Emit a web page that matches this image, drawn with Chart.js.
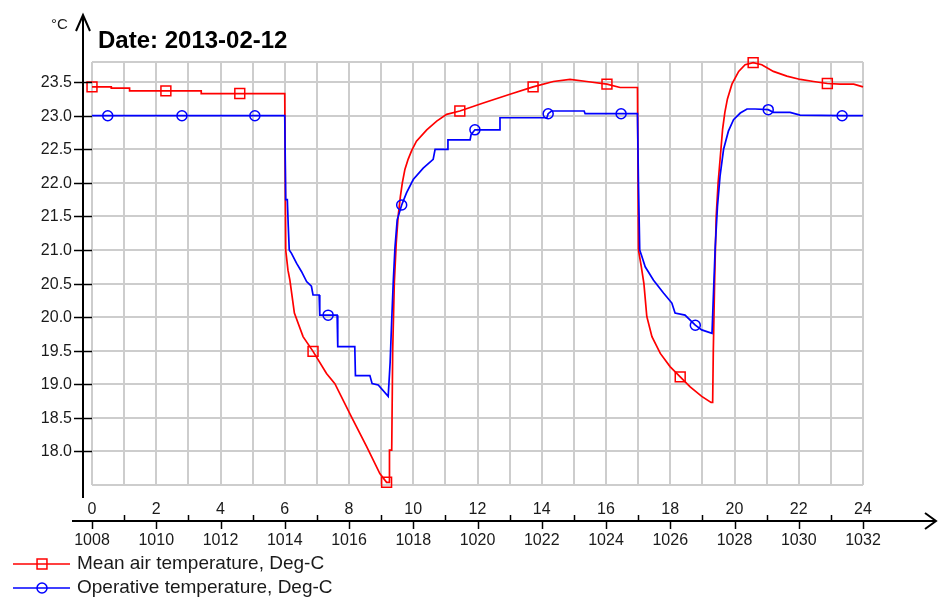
<!DOCTYPE html>
<html>
<head>
<meta charset="utf-8">
<script src="https://cdn.jsdelivr.net/npm/chart.js@4.4.1/dist/chart.umd.min.js"></script>
<style>
  html, body { margin: 0; padding: 0; background: #fff; }
  #wrap { position: relative; width: 939px; height: 599px; }
</style>
</head>
<body>
<div id="wrap"><canvas id="chart"></canvas></div>
<script>
// Room temperatures for one simulated day (hour of day / hour of year)
const titleText = 'Date: 2013-02-12';
const unitLabel = '°C';
const seriesNames = ['Mean air temperature, Deg-C', 'Operative temperature, Deg-C'];

const airHours = [0, 0.6, 0.6, 1.17, 1.17, 2.30, 3.4, 3.4, 4.60, 6.0,
  6.03, 6.10, 6.16, 6.30, 6.57, 6.88, 7.30, 7.56, 8.08, 8.55,
  8.96, 9.17, 9.26, 9.26, 9.33, 9.36, 9.41, 9.47, 9.53, 9.60,
  9.66, 9.74, 9.84, 9.95, 10.1, 10.42, 10.73, 11.04, 11.45, 12.18,
  13.01, 13.73, 14.36, 14.88, 15.40, 16.03, 16.44, 16.98, 17.01, 17.10,
  17.18, 17.27, 17.43, 17.69, 18.0, 18.31, 18.62, 18.98, 19.27, 19.32,
  19.34, 19.38, 19.43, 19.49, 19.56, 19.63, 19.70, 19.78, 19.92, 20.13,
  20.33, 20.58, 20.85, 21.21, 21.63, 22.05, 22.46, 22.89, 23.29, 23.71, 24];
const airTemp = [23.43, 23.43, 23.41, 23.41, 23.37, 23.37, 23.37, 23.33, 23.33, 23.33,
  21.0, 20.7, 20.55, 20.06, 19.71, 19.49, 19.16, 19.01, 18.51, 18.07,
  17.67, 17.54, 17.54, 18.02, 18.02, 19.5, 20.5, 21.1, 21.5, 21.8,
  22.0, 22.2, 22.35, 22.48, 22.62, 22.79, 22.92, 23.02, 23.07, 23.19,
  23.32, 23.43, 23.51, 23.54, 23.51, 23.47, 23.42, 23.42, 21.0, 20.75,
  20.5, 20.01, 19.71, 19.46, 19.26, 19.11, 18.96, 18.82, 18.73, 18.73,
  19.49, 20.5, 21.5, 22.0, 22.4, 22.8, 23.05, 23.25, 23.47, 23.66,
  23.76, 23.79, 23.76, 23.66, 23.59, 23.54, 23.51, 23.48, 23.47, 23.47, 23.43];
const airMarkerHours = [0, 2.30, 4.60, 6.88, 9.17, 11.45, 13.73, 16.03, 18.31, 20.58, 22.89];

const opHours = [0, 0.49, 2.80, 5.07, 6.0, 6.03, 6.08, 6.11, 6.14, 6.21,
  6.37, 6.52, 6.68, 6.83, 6.88, 7.07, 7.09, 7.35, 7.63, 7.65,
  8.18, 8.20, 8.65, 8.72, 8.91, 9.22, 9.28, 9.33, 9.38, 9.43,
  9.50, 9.64, 9.79, 10.0, 10.31, 10.62, 10.68, 11.06, 11.08, 11.77,
  11.80, 11.92, 12.68, 12.70, 14.16, 14.2, 14.3, 15.32, 15.35, 16.47,
  16.98, 17.01, 17.05, 17.12, 17.22, 17.48, 17.79, 18.05, 18.15, 18.46,
  18.78, 18.98, 19.30, 19.35, 19.40, 19.47, 19.55, 19.66, 19.81, 19.97,
  20.18, 20.39, 20.64, 21.05, 21.21, 21.73, 22.04, 23.35, 24];
const opTemp = [23.0, 23.0, 23.0, 23.0, 23.0, 21.75, 21.75, 21.35, 21.0, 20.95,
  20.80, 20.68, 20.53, 20.46, 20.33, 20.33, 20.03, 20.03, 20.03, 19.56,
  19.56, 19.13, 19.13, 19.01, 18.99, 18.82, 19.32, 19.96, 20.55, 21.03,
  21.45, 21.67, 21.85, 22.05, 22.22, 22.35, 22.5, 22.5, 22.64, 22.64,
  22.72, 22.79, 22.79, 22.97, 22.97, 23.03, 23.07, 23.07, 23.03, 23.03,
  23.03, 22.0, 21.0, 20.9, 20.75, 20.55, 20.36, 20.21, 20.06, 20.03,
  19.88, 19.81, 19.76, 20.41, 21.05, 21.65, 22.1, 22.5, 22.77, 22.94,
  23.04, 23.1, 23.1, 23.09, 23.05, 23.05, 23.01, 23.0, 23.0];
const opMarkerHours = [0.49, 2.80, 5.07, 7.35, 9.64, 11.92, 14.2, 16.47, 18.78, 21.05, 23.35];

const hourTicks = [0, 2, 4, 6, 8, 10, 12, 14, 16, 18, 20, 22, 24];
const hourOfYearTicks = [1008, 1010, 1012, 1014, 1016, 1018, 1020, 1022, 1024, 1026, 1028, 1030, 1032];
const tempTicks = [18.0, 18.5, 19.0, 19.5, 20.0, 20.5, 21.0, 21.5, 22.0, 22.5, 23.0, 23.5];
const tempRange = [17.5, 23.8];
const hourRange = [0, 24];

const seriesColors = ['#ff0000', '#0000ff'];
const markerStyles = [
  { pointStyle: 'rect', radius: 7, borderWidth: 1.5, rotation: 0 },
  { pointStyle: 'circle', radius: 5, borderWidth: 1.5, rotation: 0 }
];
const FONT = '"Liberation Sans", Arial, sans-serif';
const GRID = '#cdcdcd';

const toPoints = (xs, ys) => xs.map((x, i) => ({ x: x, y: ys[i] }));
const markerRadius = (list, r) => (c) => (c.raw && list.includes(c.raw.x)) ? r : 0;

// Axis lines with arrow heads, tick marks, tick labels, title and legend
const axesPlugin = {
  id: 'thermoAxes',
  afterDraw(chart) {
    const ctx = chart.ctx;
    const xs = chart.scales.x, ys = chart.scales.y;
    const area = chart.chartArea;
    const axisX = Math.round(area.left) - 9;
    const axisY = Math.round(area.bottom) + 36;

    ctx.save();
    ctx.strokeStyle = '#000';
    ctx.fillStyle = '#1a1a1a';
    ctx.lineWidth = 2;
    ctx.lineCap = 'butt';

    // vertical axis
    ctx.beginPath();
    ctx.moveTo(axisX, area.bottom + 13);
    ctx.lineTo(axisX, 16);
    ctx.stroke();
    ctx.beginPath();
    ctx.moveTo(axisX - 7, 31);
    ctx.lineTo(axisX, 15);
    ctx.lineTo(axisX + 7, 31);
    ctx.stroke();

    // horizontal axis
    ctx.beginPath();
    ctx.moveTo(72, axisY);
    ctx.lineTo(935, axisY);
    ctx.stroke();
    ctx.beginPath();
    ctx.moveTo(925, axisY - 8);
    ctx.lineTo(936, axisY);
    ctx.lineTo(925, axisY + 8);
    ctx.stroke();

    // value ticks and labels
    ctx.lineWidth = 1.5;
    ctx.font = '16px ' + FONT;
    ctx.textAlign = 'right';
    ctx.textBaseline = 'middle';
    tempTicks.forEach(v => {
      const py = Math.round(ys.getPixelForValue(v)) + 0.5;
      ctx.beginPath();
      ctx.moveTo(axisX - 9, py);
      ctx.lineTo(area.left, py);
      ctx.stroke();
      ctx.fillText(v.toFixed(1), axisX - 11, py);
    });

    // hour ticks: long marks on even hours, short marks on odd hours
    for (let h = hourRange[0]; h <= hourRange[1]; h++) {
      const px = Math.round(xs.getPixelForValue(h)) + 0.5;
      ctx.beginPath();
      if (h % 2 === 0) { ctx.moveTo(px, axisY); ctx.lineTo(px, axisY + 8); }
      else { ctx.moveTo(px, axisY - 6); ctx.lineTo(px, axisY); }
      ctx.stroke();
    }
    ctx.textAlign = 'center';
    hourTicks.forEach((h, i) => {
      const px = xs.getPixelForValue(h);
      ctx.fillText(String(h), px, axisY - 11);
      ctx.fillText(String(hourOfYearTicks[i]), px, axisY + 20);
    });

    // unit and title
    ctx.textAlign = 'left';
    ctx.font = '15px ' + FONT;
    ctx.fillText(unitLabel, 51, 25);
    ctx.fillStyle = '#000';
    ctx.font = 'bold 24px ' + FONT;
    ctx.fillText(titleText, 98, 41);

    // legend
    seriesNames.forEach((name, i) => {
      const ly = 564 + 24 * i;
      ctx.strokeStyle = seriesColors[i];
      ctx.lineWidth = 1.7;
      ctx.beginPath();
      ctx.moveTo(13, ly);
      ctx.lineTo(70, ly);
      ctx.stroke();
      ctx.fillStyle = 'rgba(0,0,0,0)';
      ctx.lineWidth = markerStyles[i].borderWidth;
      Chart.helpers.drawPoint(ctx, markerStyles[i], 42, ly);
      ctx.fillStyle = '#1a1a1a';
      ctx.font = '19px ' + FONT;
      ctx.textAlign = 'left';
      ctx.fillText(name, 77, ly);
    });
    ctx.restore();
  }
};

const gridTicks = (values) => (scale) => { scale.ticks = values.map(v => ({ value: v })); };
const hourGrid = [];
for (let h = hourRange[0]; h <= hourRange[1]; h++) hourGrid.push(h);
const tempGrid = [tempRange[0]].concat(tempTicks, [tempRange[1]]);

new Chart(document.getElementById('chart'), {
  type: 'line',
  data: {
    datasets: [
      {
        label: seriesNames[0],
        data: toPoints(airHours, airTemp),
        borderColor: seriesColors[0],
        borderWidth: 1.7,
        tension: 0,
        pointStyle: markerStyles[0].pointStyle,
        pointRadius: markerRadius(airMarkerHours, markerStyles[0].radius),
        pointHoverRadius: 0,
        pointBorderColor: seriesColors[0],
        pointBackgroundColor: 'rgba(0,0,0,0)',
        pointBorderWidth: markerStyles[0].borderWidth,
        order: 2,
        clip: false
      },
      {
        label: seriesNames[1],
        data: toPoints(opHours, opTemp),
        borderColor: seriesColors[1],
        borderWidth: 1.7,
        tension: 0,
        pointStyle: markerStyles[1].pointStyle,
        pointRadius: markerRadius(opMarkerHours, markerStyles[1].radius),
        pointHoverRadius: 0,
        pointBorderColor: seriesColors[1],
        pointBackgroundColor: 'rgba(0,0,0,0)',
        pointBorderWidth: markerStyles[1].borderWidth,
        order: 1,
        clip: false
      }
    ]
  },
  options: {
    responsive: true,
    maintainAspectRatio: false,
    animation: false,
    events: [],
    layout: { padding: { left: 92, right: 76, top: 62, bottom: 114 } },
    plugins: { legend: { display: false }, tooltip: { enabled: false }, title: { display: false } },
    scales: {
      x: {
        type: 'linear', min: hourRange[0], max: hourRange[1],
        afterBuildTicks: gridTicks(hourGrid),
        grid: { color: GRID, lineWidth: 2, drawTicks: false },
        border: { display: false },
        ticks: { display: false }
      },
      y: {
        type: 'linear', min: tempRange[0], max: tempRange[1],
        afterBuildTicks: gridTicks(tempGrid),
        grid: { color: GRID, lineWidth: 2, drawTicks: false },
        border: { display: false },
        ticks: { display: false }
      }
    }
  },
  plugins: [axesPlugin]
});
</script>
</body>
</html>
